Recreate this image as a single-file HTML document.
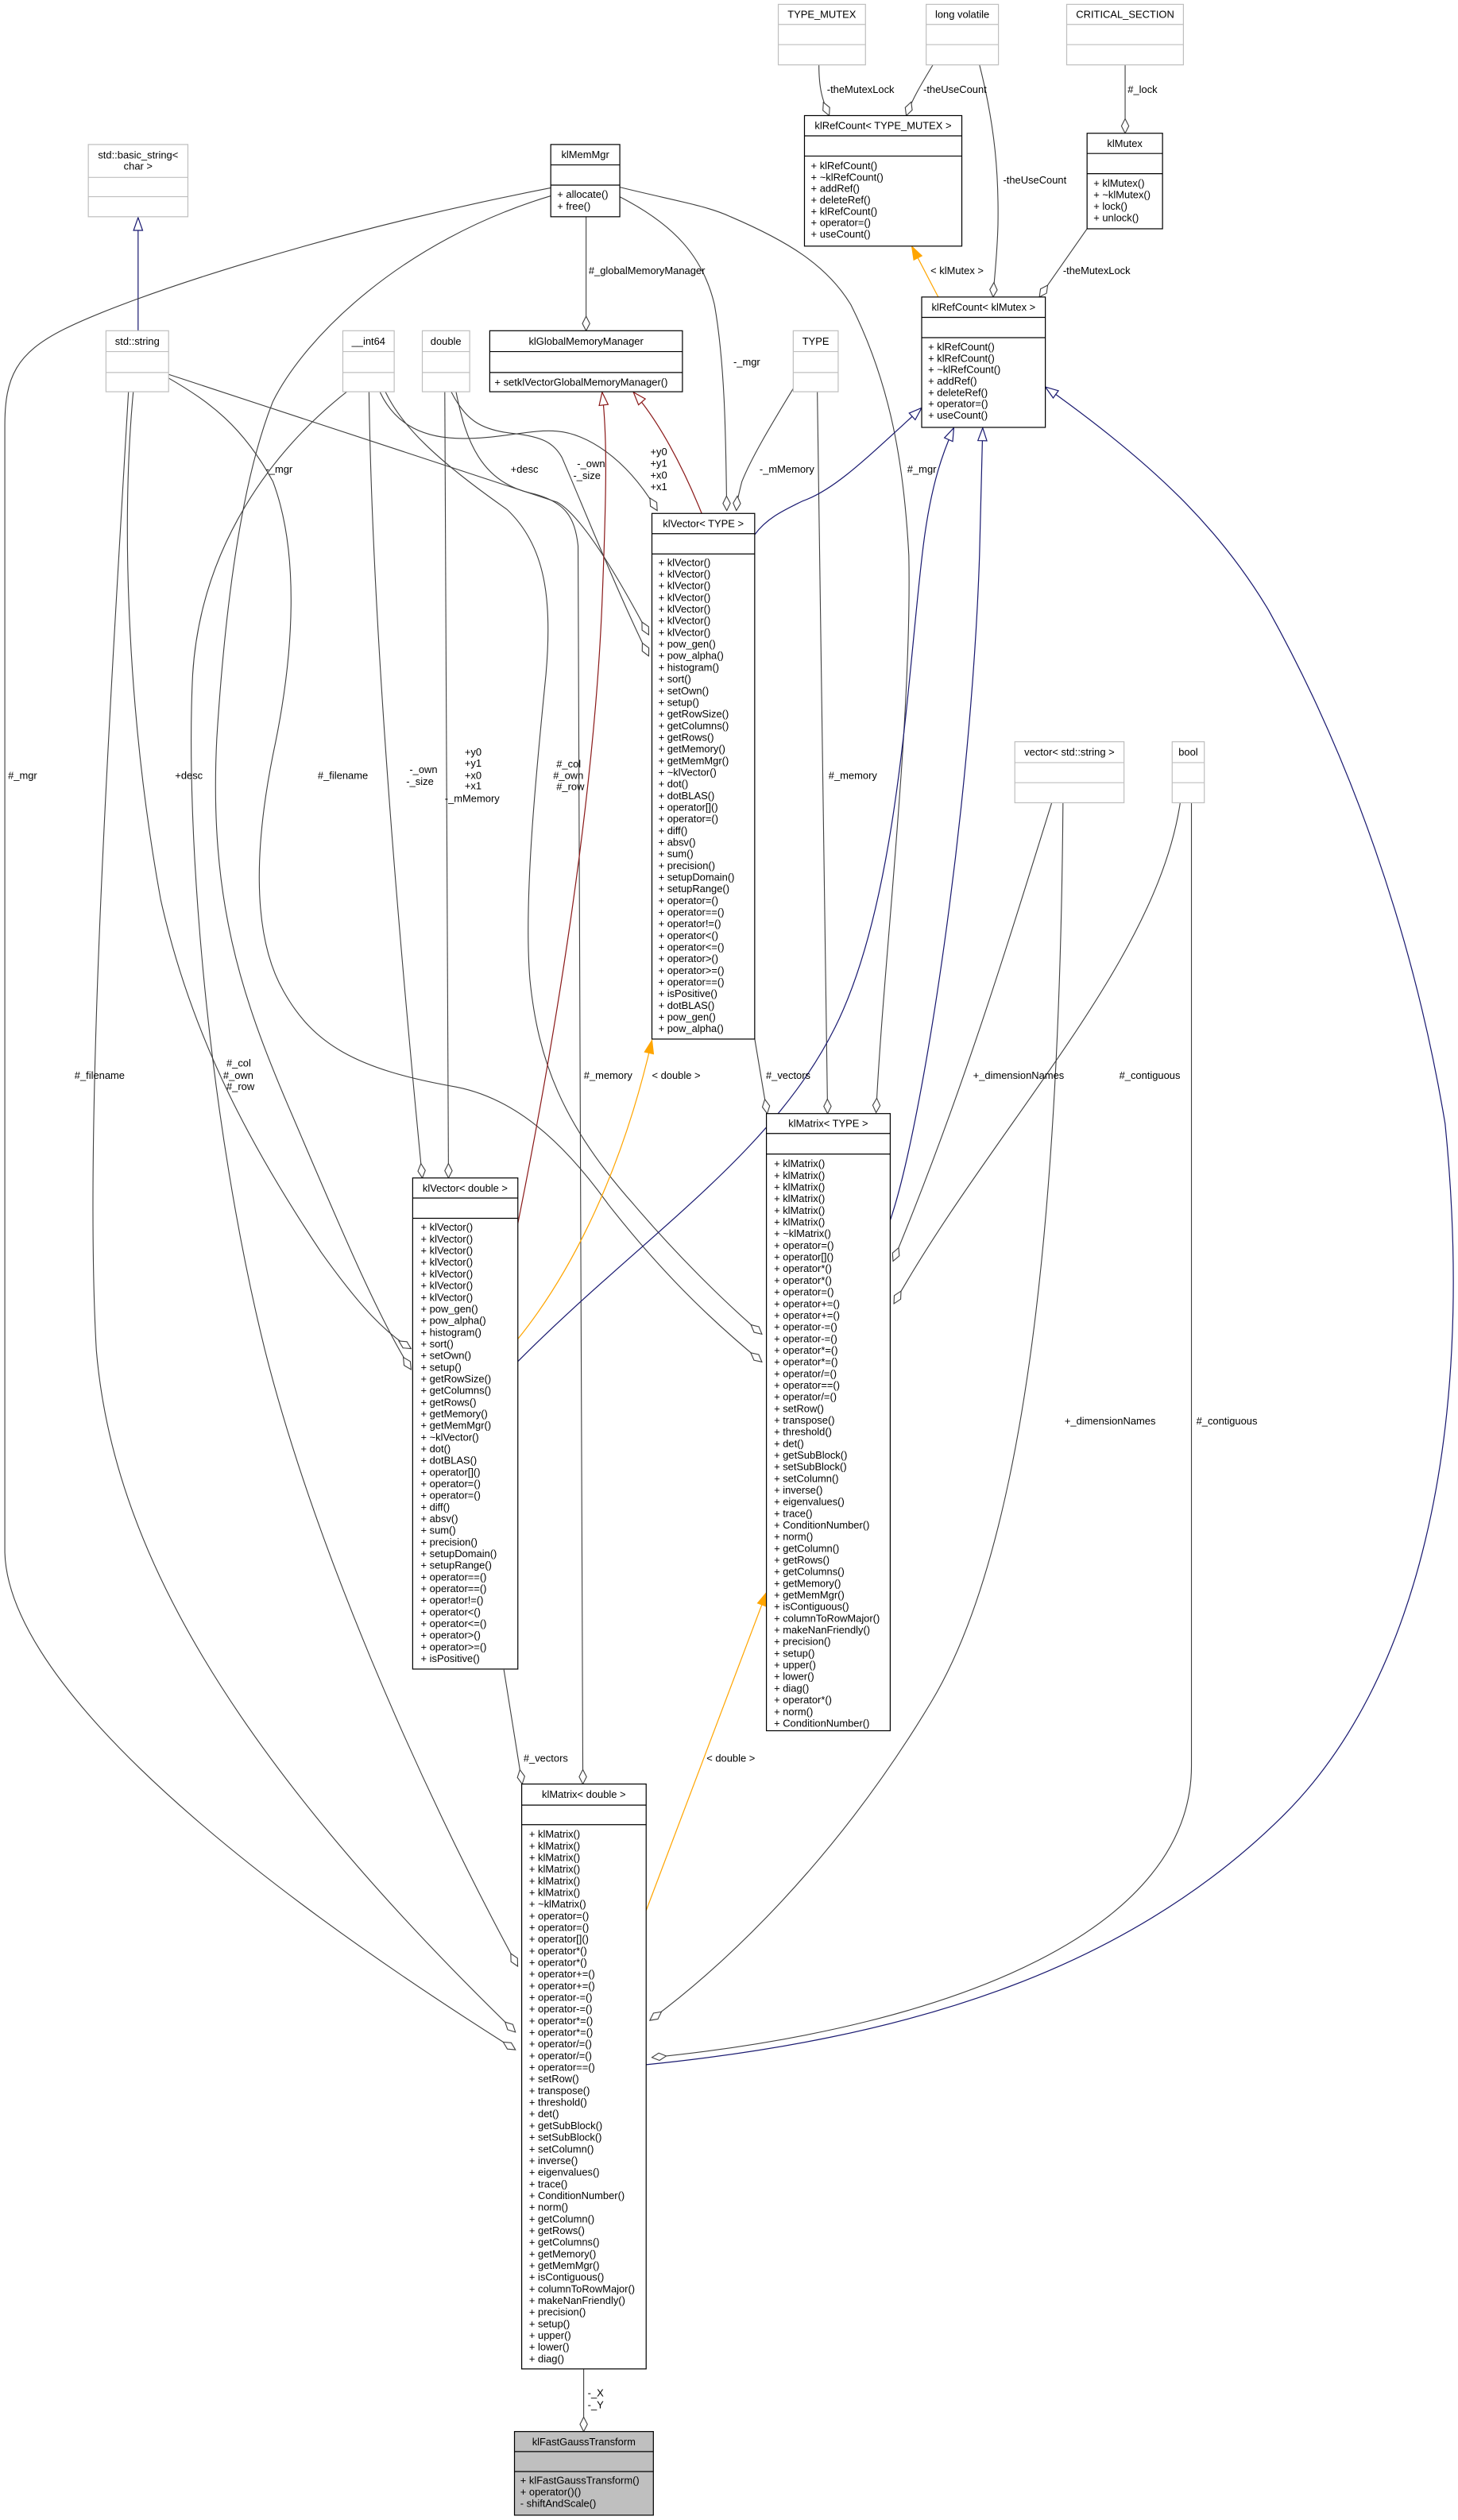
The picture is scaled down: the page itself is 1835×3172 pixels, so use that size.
<!DOCTYPE html>
<html><head><meta charset="utf-8"><style>
html,body{margin:0;padding:0;background:#fff}
svg{display:block}
text{font-family:"Liberation Sans",Arial,sans-serif;font-size:6.4px;fill:#000}
.e{fill:none;stroke:#404040;stroke-width:0.55}
.b{fill:none;stroke:#191970;stroke-width:0.6}
.r{fill:none;stroke:#8b1a1a;stroke-width:0.6}
.o{fill:none;stroke:#ffa500;stroke-width:0.6}
.bx{fill:#fff;stroke:#000;stroke-width:0.6}
.gx{fill:#fff;stroke:#bfbfbf;stroke-width:0.6}
.sl{stroke:#000;stroke-width:0.6}
.gl{stroke:#bfbfbf;stroke-width:0.6}
.c{text-anchor:middle}
</style></head><body>
<svg width="1835" height="3172" viewBox="0 0 908 1569.6" xmlns="http://www.w3.org/2000/svg">
<defs>
<marker id="d" markerUnits="userSpaceOnUse" markerWidth="10" markerHeight="6" viewBox="0 -3 10 6" refX="9.5" refY="0" orient="auto"><path d="M0.5,0 L5,-2.3 L9.5,0 L5,2.3Z" fill="#fff" stroke="#404040" stroke-width="0.55"/></marker>
<marker id="tb" markerUnits="userSpaceOnUse" markerWidth="9" markerHeight="7" viewBox="0 -3.5 9 7" refX="8.5" refY="0" orient="auto"><path d="M0.5,-2.8 L8.5,0 L0.5,2.8Z" fill="#fff" stroke="#191970" stroke-width="0.6"/></marker>
<marker id="tr" markerUnits="userSpaceOnUse" markerWidth="9" markerHeight="7" viewBox="0 -3.5 9 7" refX="8.5" refY="0" orient="auto"><path d="M0.5,-2.8 L8.5,0 L0.5,2.8Z" fill="#fff" stroke="#8b1a1a" stroke-width="0.6"/></marker>
<marker id="to" markerUnits="userSpaceOnUse" markerWidth="9" markerHeight="7" viewBox="0 -3.5 9 7" refX="8.5" refY="0" orient="auto"><path d="M0.5,-2.8 L8.5,0 L0.5,2.8Z" fill="#ffa500" stroke="#ffa500" stroke-width="0.6"/></marker>
</defs>

<!-- edges -->
<path class="b" d="M86,206 L86,135.5" marker-end="url(#tb)"/>
<path class="e" d="M365,135 L365,206" marker-end="url(#d)"/>
<path class="e" d="M386,122.6 C420,140 438,160 445,190 C452,230 452,280 452.6,318" marker-end="url(#d)"/>
<path class="e" d="M386,116.6 C420,125 440,128 455,135 C490,150 515,165 530,190 C555,240 563,290 566,346 C568,450 550,600 545.6,693" marker-end="url(#d)"/>
<path class="e" d="M343,117 C200,145 80,185 40,205 C10,220 3,235 3,265 L3,967 C5,1040 120,1150 321,1276.7" marker-end="url(#d)"/>
<path class="e" d="M80,244 C68,450 52,700 60,841 C70,960 140,1090 321,1265.7" marker-end="url(#d)"/>
<path class="e" d="M216,244 C170,280 125,340 120,420 C115,520 130,700 165,841 C195,960 260,1110 322.4,1224.7" marker-end="url(#d)"/>
<path class="e" d="M343,122 C250,150 190,210 170,250 C150,300 140,380 135,460 C130,560 150,620 180,690 C210,760 235,820 256,853" marker-end="url(#d)"/>
<path class="e" d="M83,244 C75,330 80,450 100,560 C120,650 160,720 200,780 C225,815 240,830 256,840" marker-end="url(#d)"/>
<path class="e" d="M105,235.5 C130,250 151,265 170,300 C185,340 185,400 170,470 C160,520 155,580 176.7,617.6 C195,650 221,666 284,677 C320,684 350,710 378.7,750 C410,790 440,820 474.5,848.3" marker-end="url(#d)"/>
<path class="e" d="M240,244 C250,265 271,286 315.6,317.2 C340,340 344,374 340,420 C334,480 326,560 330,610 C335,660 350,700 394.5,750 C420,780 450,810 474.5,831" marker-end="url(#d)"/>
<path class="e" d="M105,233.2 L347,312.8 C360,320 380,350 404,395.4" marker-end="url(#d)"/>
<path class="e" d="M236.7,244.3 C245,262 260,272 284,273 C310,274 330,267 347,268.6 C365,270 390,285 409.3,318" marker-end="url(#d)"/>
<path class="e" d="M281,244 C290,262 300,268 320,270 C338,272 345,276 350,285 C365,320 385,370 404,408.6" marker-end="url(#d)"/>
<path class="e" d="M229.8,244 C232,400 250,600 263,733.7" marker-end="url(#d)"/>
<path class="e" d="M277,244 C277,450 279,600 279.3,733.7" marker-end="url(#d)"/>
<path class="e" d="M284,244 C290,275 300,300 330,307 C352,312 358,322 360,340 L363,1111.2" marker-end="url(#d)"/>
<path class="e" d="M494,242 C480,265 468,285 462,300 C460,308 459,312 458.6,318" marker-end="url(#d)"/>
<path class="e" d="M509,244 L515.4,693.6" marker-end="url(#d)"/>
<path class="e" d="M470,647 L477.8,693.6" marker-end="url(#d)"/>
<path class="e" d="M313.8,1040 L325.2,1111.2" marker-end="url(#d)"/>
<path class="e" d="M363.5,1475.5 L363.5,1514.5" marker-end="url(#d)"/>
<path class="e" d="M510,40.4 C510,55 512,62 516.4,72" marker-end="url(#d)"/>
<path class="e" d="M581,40.4 C574,52 568,62 564.4,72" marker-end="url(#d)"/>
<path class="e" d="M610,40.4 C620,80 622,110 621.5,140 C621,160 619,175 618.5,185" marker-end="url(#d)"/>
<path class="e" d="M700.7,40.4 L700.7,83" marker-end="url(#d)"/>
<path class="e" d="M677,142.5 L647.3,185" marker-end="url(#d)"/>
<path class="e" d="M655,500 C630,580 600,680 556.2,785.5" marker-end="url(#d)"/>
<path class="e" d="M735,500 C720,600 620,700 556.7,812" marker-end="url(#d)"/>
<path class="e" d="M662,500 C660,750 640,960 580,1060 C520,1160 450,1225 404.7,1258.4" marker-end="url(#d)"/>
<path class="e" d="M742,500 L742,1100 C742,1200 600,1262 406,1281.5" marker-end="url(#d)"/>
<path class="r" d="M437,319.8 C425,290 410,262 394.5,244.3" marker-end="url(#tr)"/>
<path class="r" d="M322.5,762 C345,650 370,500 375,374 C378,300 378,270 375,244.3" marker-end="url(#tr)"/>
<path class="b" d="M470,333 C478,322 490,317 500,312 C520,305 540,285 574,254" marker-end="url(#tb)"/>
<path class="b" d="M322.5,848 C400,770 480,720 520,640 C560,560 565,420 575,340 C580,300 588,280 594,266.5" marker-end="url(#tb)"/>
<path class="b" d="M554.4,760 C575,700 605,500 610,346 L612,266.5" marker-end="url(#tb)"/>
<path class="b" d="M402.4,1286 C560,1270 700,1230 800,1130 C880,1050 920,900 900,700 C880,580 840,470 790,380 C760,330 720,290 651,241" marker-end="url(#tb)"/>
<path class="o" d="M322.5,834 C350,800 385,740 406,648" marker-end="url(#to)"/>
<path class="o" d="M402.4,1190 L477.3,992" marker-end="url(#to)"/>
<path class="o" d="M584.3,185 L567.9,153.5" marker-end="url(#to)"/>

<!-- edge labels -->
<text x="366.6" y="170.7">#_globalMemoryManager</text>
<text x="456.7" y="227.5">-_mgr</text>
<text x="565" y="294.4">#_mgr</text>
<text x="165.5" y="294.4">-_mgr</text>
<text x="318" y="294.4">+desc</text>
<text x="359.4" y="290.9">-_own</text>
<text x="357" y="298.3">-_size</text>
<text x="405" y="283.6">+y0</text><text x="405" y="290.7">+y1</text><text x="405" y="298.2">+x0</text><text x="405" y="305.2">+x1</text>
<text x="473" y="294.4">-_mMemory</text>
<text x="515" y="57.9">-theMutexLock</text>
<text x="575" y="57.9">-theUseCount</text>
<text x="624.7" y="114.4">-theUseCount</text>
<text x="702.3" y="57.9">#_lock</text>
<text x="579.5" y="170.7">&lt; klMutex &gt;</text>
<text x="662" y="170.7">-theMutexLock</text>
<text x="5" y="485.1">#_mgr</text>
<text x="109" y="485.1">+desc</text>
<text x="197.9" y="485.1">#_filename</text>
<text x="255" y="481.5">-_own</text><text x="253" y="489">-_size</text>
<text x="289.4" y="470.5">+y0</text><text x="289.4" y="477.6">+y1</text><text x="289.4" y="485.1">+x0</text><text x="289.4" y="491.7">+x1</text><text x="277" y="499.6">-_mMemory</text>
<text x="346.5" y="478">#_col</text><text x="344.5" y="485.1">#_own</text><text x="346.5" y="492.2">#_row</text>
<text x="516" y="485.1">#_memory</text>
<text x="46.4" y="671.9">#_filename</text>
<text x="141" y="664.4">#_col</text><text x="139" y="671.9">#_own</text><text x="141" y="679">#_row</text>
<text x="363.6" y="671.9">#_memory</text>
<text x="406" y="671.9">&lt; double &gt;</text>
<text x="477" y="671.9">#_vectors</text>
<text x="606" y="671.9">+_dimensionNames</text>
<text x="697" y="671.9">#_contiguous</text>
<text x="663" y="887.2">+_dimensionNames</text>
<text x="745" y="887.2">#_contiguous</text>
<text x="326" y="1097.2">#_vectors</text>
<text x="440" y="1097.2">&lt; double &gt;</text>
<text x="366" y="1492.6">-_X</text><text x="366" y="1500.1">-_Y</text>

<!-- gray boxes -->
<rect class="gx" x="55" y="90" width="62" height="45"/><line class="gl" x1="55" y1="110.5" x2="117" y2="110.5"/><line class="gl" x1="55" y1="122.5" x2="117" y2="122.5"/>
<text class="c" x="86" y="98.7">std::basic_string&lt;</text><text class="c" x="86" y="105.7">char &gt;</text>
<rect class="gx" x="66" y="206" width="39" height="38"/><line class="gl" x1="66" y1="219" x2="105" y2="219"/><line class="gl" x1="66" y1="232" x2="105" y2="232"/><text class="c" x="85.5" y="214.7">std::string</text>
<rect class="gx" x="213.5" y="206" width="32" height="38"/><line class="gl" x1="213.5" y1="219" x2="245.5" y2="219"/><line class="gl" x1="213.5" y1="232" x2="245.5" y2="232"/><text class="c" x="229.5" y="214.7">__int64</text>
<rect class="gx" x="263" y="206" width="29.5" height="38"/><line class="gl" x1="263" y1="219" x2="292.5" y2="219"/><line class="gl" x1="263" y1="232" x2="292.5" y2="232"/><text class="c" x="277.7" y="214.7">double</text>
<rect class="gx" x="494" y="206" width="28" height="38"/><line class="gl" x1="494" y1="219" x2="522" y2="219"/><line class="gl" x1="494" y1="232" x2="522" y2="232"/><text class="c" x="508" y="214.7">TYPE</text>
<rect class="gx" x="632" y="462" width="68" height="38"/><line class="gl" x1="632" y1="475" x2="700" y2="475"/><line class="gl" x1="632" y1="487.5" x2="700" y2="487.5"/><text class="c" x="666" y="470.7">vector&lt; std::string &gt;</text>
<rect class="gx" x="730" y="462" width="20" height="38"/><line class="gl" x1="730" y1="475" x2="750" y2="475"/><line class="gl" x1="730" y1="487.5" x2="750" y2="487.5"/><text class="c" x="740" y="470.7">bool</text>
<rect class="gx" x="484.7" y="2.7" width="54.3" height="37.7"/><line class="gl" x1="484.7" y1="15.2" x2="539" y2="15.2"/><line class="gl" x1="484.7" y1="27.8" x2="539" y2="27.8"/><text class="c" x="511.8" y="11.2">TYPE_MUTEX</text>
<rect class="gx" x="576.8" y="2.7" width="45" height="37.7"/><line class="gl" x1="576.8" y1="15.2" x2="621.8" y2="15.2"/><line class="gl" x1="576.8" y1="27.8" x2="621.8" y2="27.8"/><text class="c" x="599.3" y="11.2">long volatile</text>
<rect class="gx" x="664.3" y="2.7" width="72.7" height="37.7"/><line class="gl" x1="664.3" y1="15.2" x2="737" y2="15.2"/><line class="gl" x1="664.3" y1="27.8" x2="737" y2="27.8"/><text class="c" x="700.7" y="11.2">CRITICAL_SECTION</text>

<!-- black boxes -->
<rect class="bx" x="343" y="90" width="43" height="45"/><line class="sl" x1="343" y1="102.7" x2="386" y2="102.7"/><line class="sl" x1="343" y1="115.3" x2="386" y2="115.3"/>
<text class="c" x="364.5" y="98.5">klMemMgr</text><text x="347" y="123.2">+ allocate()<tspan x="347" dy="7.5">+ free()</tspan></text>

<rect class="bx" x="305" y="206" width="120" height="38"/><line class="sl" x1="305" y1="219" x2="425" y2="219"/><line class="sl" x1="305" y1="232" x2="425" y2="232"/>
<text class="c" x="365" y="214.7">klGlobalMemoryManager</text><text x="308" y="240.2">+ setklVectorGlobalMemoryManager()</text>

<rect class="bx" x="501" y="72" width="98" height="81.3"/><line class="sl" x1="501" y1="84.6" x2="599" y2="84.6"/><line class="sl" x1="501" y1="97.2" x2="599" y2="97.2"/>
<text class="c" x="550" y="80.5">klRefCount&lt; TYPE_MUTEX &gt;</text>
<text x="505" y="105.4">+ klRefCount()<tspan x="505" dy="7.1">+ ~klRefCount()</tspan><tspan x="505" dy="7.1">+ addRef()</tspan><tspan x="505" dy="7.1">+ deleteRef()</tspan><tspan x="505" dy="7.1">+ klRefCount()</tspan><tspan x="505" dy="7.1">+ operator=()</tspan><tspan x="505" dy="7.1">+ useCount()</tspan></text>

<rect class="bx" x="677" y="83" width="47" height="59.5"/><line class="sl" x1="677" y1="95.6" x2="724" y2="95.6"/><line class="sl" x1="677" y1="108.2" x2="724" y2="108.2"/>
<text class="c" x="700.5" y="91.5">klMutex</text>
<text x="681" y="116.4">+ klMutex()<tspan x="681" dy="7.1">+ ~klMutex()</tspan><tspan x="681" dy="7.1">+ lock()</tspan><tspan x="681" dy="7.1">+ unlock()</tspan></text>

<rect class="bx" x="574" y="185" width="77" height="81.2"/><line class="sl" x1="574" y1="197.7" x2="651" y2="197.7"/><line class="sl" x1="574" y1="210.3" x2="651" y2="210.3"/>
<text class="c" x="612.5" y="193.5">klRefCount&lt; klMutex &gt;</text>
<text x="578" y="218.2">+ klRefCount()<tspan x="578" dy="7.1">+ klRefCount()</tspan><tspan x="578" dy="7.1">+ ~klRefCount()</tspan><tspan x="578" dy="7.1">+ addRef()</tspan><tspan x="578" dy="7.1">+ deleteRef()</tspan><tspan x="578" dy="7.1">+ operator=()</tspan><tspan x="578" dy="7.1">+ useCount()</tspan></text>

<rect class="bx" x="406" y="319.8" width="64" height="327.4"/><line class="sl" x1="406" y1="332.4" x2="470" y2="332.4"/><line class="sl" x1="406" y1="345" x2="470" y2="345"/>
<text class="c" x="438" y="328.3">klVector&lt; TYPE &gt;</text>
<text x="410" y="352.5">+ klVector()<tspan x="410" dy="7.26">+ klVector()</tspan><tspan x="410" dy="7.26">+ klVector()</tspan><tspan x="410" dy="7.26">+ klVector()</tspan><tspan x="410" dy="7.26">+ klVector()</tspan><tspan x="410" dy="7.26">+ klVector()</tspan><tspan x="410" dy="7.26">+ klVector()</tspan><tspan x="410" dy="7.26">+ pow_gen()</tspan><tspan x="410" dy="7.26">+ pow_alpha()</tspan><tspan x="410" dy="7.26">+ histogram()</tspan><tspan x="410" dy="7.26">+ sort()</tspan><tspan x="410" dy="7.26">+ setOwn()</tspan><tspan x="410" dy="7.26">+ setup()</tspan><tspan x="410" dy="7.26">+ getRowSize()</tspan><tspan x="410" dy="7.26">+ getColumns()</tspan><tspan x="410" dy="7.26">+ getRows()</tspan><tspan x="410" dy="7.26">+ getMemory()</tspan><tspan x="410" dy="7.26">+ getMemMgr()</tspan><tspan x="410" dy="7.26">+ ~klVector()</tspan><tspan x="410" dy="7.26">+ dot()</tspan><tspan x="410" dy="7.26">+ dotBLAS()</tspan><tspan x="410" dy="7.26">+ operator[]()</tspan><tspan x="410" dy="7.26">+ operator=()</tspan><tspan x="410" dy="7.26">+ diff()</tspan><tspan x="410" dy="7.26">+ absv()</tspan><tspan x="410" dy="7.26">+ sum()</tspan><tspan x="410" dy="7.26">+ precision()</tspan><tspan x="410" dy="7.26">+ setupDomain()</tspan><tspan x="410" dy="7.26">+ setupRange()</tspan><tspan x="410" dy="7.26">+ operator=()</tspan><tspan x="410" dy="7.26">+ operator==()</tspan><tspan x="410" dy="7.26">+ operator!=()</tspan><tspan x="410" dy="7.26">+ operator&lt;()</tspan><tspan x="410" dy="7.26">+ operator&lt;=()</tspan><tspan x="410" dy="7.26">+ operator&gt;()</tspan><tspan x="410" dy="7.26">+ operator&gt;=()</tspan><tspan x="410" dy="7.26">+ operator==()</tspan><tspan x="410" dy="7.26">+ isPositive()</tspan><tspan x="410" dy="7.26">+ dotBLAS()</tspan><tspan x="410" dy="7.26">+ pow_gen()</tspan><tspan x="410" dy="7.26">+ pow_alpha()</tspan></text>

<rect class="bx" x="257" y="733.7" width="65.5" height="305.9"/><line class="sl" x1="257" y1="746.2" x2="322.5" y2="746.2"/><line class="sl" x1="257" y1="758.8" x2="322.5" y2="758.8"/>
<text class="c" x="289.7" y="742.2">klVector&lt; double &gt;</text>
<text x="262" y="766.6">+ klVector()<tspan x="262" dy="7.26">+ klVector()</tspan><tspan x="262" dy="7.26">+ klVector()</tspan><tspan x="262" dy="7.26">+ klVector()</tspan><tspan x="262" dy="7.26">+ klVector()</tspan><tspan x="262" dy="7.26">+ klVector()</tspan><tspan x="262" dy="7.26">+ klVector()</tspan><tspan x="262" dy="7.26">+ pow_gen()</tspan><tspan x="262" dy="7.26">+ pow_alpha()</tspan><tspan x="262" dy="7.26">+ histogram()</tspan><tspan x="262" dy="7.26">+ sort()</tspan><tspan x="262" dy="7.26">+ setOwn()</tspan><tspan x="262" dy="7.26">+ setup()</tspan><tspan x="262" dy="7.26">+ getRowSize()</tspan><tspan x="262" dy="7.26">+ getColumns()</tspan><tspan x="262" dy="7.26">+ getRows()</tspan><tspan x="262" dy="7.26">+ getMemory()</tspan><tspan x="262" dy="7.26">+ getMemMgr()</tspan><tspan x="262" dy="7.26">+ ~klVector()</tspan><tspan x="262" dy="7.26">+ dot()</tspan><tspan x="262" dy="7.26">+ dotBLAS()</tspan><tspan x="262" dy="7.26">+ operator[]()</tspan><tspan x="262" dy="7.26">+ operator=()</tspan><tspan x="262" dy="7.26">+ operator=()</tspan><tspan x="262" dy="7.26">+ diff()</tspan><tspan x="262" dy="7.26">+ absv()</tspan><tspan x="262" dy="7.26">+ sum()</tspan><tspan x="262" dy="7.26">+ precision()</tspan><tspan x="262" dy="7.26">+ setupDomain()</tspan><tspan x="262" dy="7.26">+ setupRange()</tspan><tspan x="262" dy="7.26">+ operator==()</tspan><tspan x="262" dy="7.26">+ operator==()</tspan><tspan x="262" dy="7.26">+ operator!=()</tspan><tspan x="262" dy="7.26">+ operator&lt;()</tspan><tspan x="262" dy="7.26">+ operator&lt;=()</tspan><tspan x="262" dy="7.26">+ operator&gt;()</tspan><tspan x="262" dy="7.26">+ operator&gt;=()</tspan><tspan x="262" dy="7.26">+ isPositive()</tspan></text>

<rect class="bx" x="477.3" y="693.6" width="77.1" height="384.4"/><line class="sl" x1="477.3" y1="706" x2="554.4" y2="706"/><line class="sl" x1="477.3" y1="718.8" x2="554.4" y2="718.8"/>
<text class="c" x="515.8" y="702">klMatrix&lt; TYPE &gt;</text>
<text x="482" y="727">+ klMatrix()<tspan x="482" dy="7.26">+ klMatrix()</tspan><tspan x="482" dy="7.26">+ klMatrix()</tspan><tspan x="482" dy="7.26">+ klMatrix()</tspan><tspan x="482" dy="7.26">+ klMatrix()</tspan><tspan x="482" dy="7.26">+ klMatrix()</tspan><tspan x="482" dy="7.26">+ ~klMatrix()</tspan><tspan x="482" dy="7.26">+ operator=()</tspan><tspan x="482" dy="7.26">+ operator[]()</tspan><tspan x="482" dy="7.26">+ operator*()</tspan><tspan x="482" dy="7.26">+ operator*()</tspan><tspan x="482" dy="7.26">+ operator=()</tspan><tspan x="482" dy="7.26">+ operator+=()</tspan><tspan x="482" dy="7.26">+ operator+=()</tspan><tspan x="482" dy="7.26">+ operator-=()</tspan><tspan x="482" dy="7.26">+ operator-=()</tspan><tspan x="482" dy="7.26">+ operator*=()</tspan><tspan x="482" dy="7.26">+ operator*=()</tspan><tspan x="482" dy="7.26">+ operator/=()</tspan><tspan x="482" dy="7.26">+ operator==()</tspan><tspan x="482" dy="7.26">+ operator/=()</tspan><tspan x="482" dy="7.26">+ setRow()</tspan><tspan x="482" dy="7.26">+ transpose()</tspan><tspan x="482" dy="7.26">+ threshold()</tspan><tspan x="482" dy="7.26">+ det()</tspan><tspan x="482" dy="7.26">+ getSubBlock()</tspan><tspan x="482" dy="7.26">+ setSubBlock()</tspan><tspan x="482" dy="7.26">+ setColumn()</tspan><tspan x="482" dy="7.26">+ inverse()</tspan><tspan x="482" dy="7.26">+ eigenvalues()</tspan><tspan x="482" dy="7.26">+ trace()</tspan><tspan x="482" dy="7.26">+ ConditionNumber()</tspan><tspan x="482" dy="7.26">+ norm()</tspan><tspan x="482" dy="7.26">+ getColumn()</tspan><tspan x="482" dy="7.26">+ getRows()</tspan><tspan x="482" dy="7.26">+ getColumns()</tspan><tspan x="482" dy="7.26">+ getMemory()</tspan><tspan x="482" dy="7.26">+ getMemMgr()</tspan><tspan x="482" dy="7.26">+ isContiguous()</tspan><tspan x="482" dy="7.26">+ columnToRowMajor()</tspan><tspan x="482" dy="7.26">+ makeNanFriendly()</tspan><tspan x="482" dy="7.26">+ precision()</tspan><tspan x="482" dy="7.26">+ setup()</tspan><tspan x="482" dy="7.26">+ upper()</tspan><tspan x="482" dy="7.26">+ lower()</tspan><tspan x="482" dy="7.26">+ diag()</tspan><tspan x="482" dy="7.26">+ operator*()</tspan><tspan x="482" dy="7.26">+ norm()</tspan><tspan x="482" dy="7.26">+ ConditionNumber()</tspan></text>

<rect class="bx" x="324.9" y="1111.2" width="77.5" height="364.3"/><line class="sl" x1="324.9" y1="1124.3" x2="402.4" y2="1124.3"/><line class="sl" x1="324.9" y1="1136.5" x2="402.4" y2="1136.5"/>
<text class="c" x="363.6" y="1119.9">klMatrix&lt; double &gt;</text>
<text x="329.5" y="1144.6">+ klMatrix()<tspan x="329.5" dy="7.26">+ klMatrix()</tspan><tspan x="329.5" dy="7.26">+ klMatrix()</tspan><tspan x="329.5" dy="7.26">+ klMatrix()</tspan><tspan x="329.5" dy="7.26">+ klMatrix()</tspan><tspan x="329.5" dy="7.26">+ klMatrix()</tspan><tspan x="329.5" dy="7.26">+ ~klMatrix()</tspan><tspan x="329.5" dy="7.26">+ operator=()</tspan><tspan x="329.5" dy="7.26">+ operator=()</tspan><tspan x="329.5" dy="7.26">+ operator[]()</tspan><tspan x="329.5" dy="7.26">+ operator*()</tspan><tspan x="329.5" dy="7.26">+ operator*()</tspan><tspan x="329.5" dy="7.26">+ operator+=()</tspan><tspan x="329.5" dy="7.26">+ operator+=()</tspan><tspan x="329.5" dy="7.26">+ operator-=()</tspan><tspan x="329.5" dy="7.26">+ operator-=()</tspan><tspan x="329.5" dy="7.26">+ operator*=()</tspan><tspan x="329.5" dy="7.26">+ operator*=()</tspan><tspan x="329.5" dy="7.26">+ operator/=()</tspan><tspan x="329.5" dy="7.26">+ operator/=()</tspan><tspan x="329.5" dy="7.26">+ operator==()</tspan><tspan x="329.5" dy="7.26">+ setRow()</tspan><tspan x="329.5" dy="7.26">+ transpose()</tspan><tspan x="329.5" dy="7.26">+ threshold()</tspan><tspan x="329.5" dy="7.26">+ det()</tspan><tspan x="329.5" dy="7.26">+ getSubBlock()</tspan><tspan x="329.5" dy="7.26">+ setSubBlock()</tspan><tspan x="329.5" dy="7.26">+ setColumn()</tspan><tspan x="329.5" dy="7.26">+ inverse()</tspan><tspan x="329.5" dy="7.26">+ eigenvalues()</tspan><tspan x="329.5" dy="7.26">+ trace()</tspan><tspan x="329.5" dy="7.26">+ ConditionNumber()</tspan><tspan x="329.5" dy="7.26">+ norm()</tspan><tspan x="329.5" dy="7.26">+ getColumn()</tspan><tspan x="329.5" dy="7.26">+ getRows()</tspan><tspan x="329.5" dy="7.26">+ getColumns()</tspan><tspan x="329.5" dy="7.26">+ getMemory()</tspan><tspan x="329.5" dy="7.26">+ getMemMgr()</tspan><tspan x="329.5" dy="7.26">+ isContiguous()</tspan><tspan x="329.5" dy="7.26">+ columnToRowMajor()</tspan><tspan x="329.5" dy="7.26">+ makeNanFriendly()</tspan><tspan x="329.5" dy="7.26">+ precision()</tspan><tspan x="329.5" dy="7.26">+ setup()</tspan><tspan x="329.5" dy="7.26">+ upper()</tspan><tspan x="329.5" dy="7.26">+ lower()</tspan><tspan x="329.5" dy="7.26">+ diag()</tspan></text>

<rect x="320.4" y="1514.5" width="86.5" height="52.1" fill="#bfbfbf" stroke="#000" stroke-width="0.6"/><line class="sl" x1="320.4" y1="1527" x2="406.9" y2="1527"/><line class="sl" x1="320.4" y1="1539.4" x2="406.9" y2="1539.4"/>
<text class="c" x="363.6" y="1523">klFastGaussTransform</text>
<text x="324" y="1547.2">+ klFastGaussTransform()<tspan x="324" dy="7.1">+ operator()()</tspan><tspan x="324" dy="7.1">- shiftAndScale()</tspan></text>
</svg>
</body></html>
